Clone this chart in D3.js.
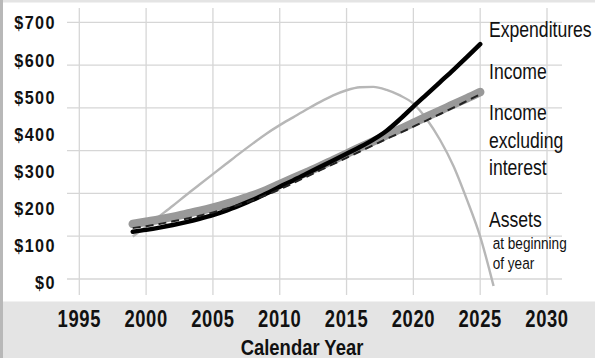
<!DOCTYPE html>
<html>
<head>
<meta charset="utf-8">
<script src="https://cdn.jsdelivr.net/npm/d3@7"></script>
<style>
  html, body { margin: 0; padding: 0; background: #fff; }
  svg { display: block; }
</style>
</head>
<body>
<svg id="chart" width="595" height="358"></svg>
<script>
// Trust fund projections, billions of dollars, by calendar year
const years = [1999, 2000, 2001, 2002, 2003, 2004, 2005, 2006, 2007, 2008, 2009, 2010, 2011, 2012,
               2013, 2014, 2015, 2016, 2017, 2018, 2019, 2020, 2021, 2022, 2023, 2024, 2025];
const expenditures = [138, 143, 149, 156, 164, 173, 183, 195, 209, 224, 241, 259, 276, 294,
                      312, 330, 348, 366, 386, 410, 441, 475, 508, 541, 574, 608, 643];
const income = [159, 165, 171, 178, 186, 194, 203, 213, 224, 236, 250, 266, 282, 298,
                314, 331, 348, 365, 381, 398, 414, 431, 448, 464, 481, 497, 514];
const incomeExInterest = [148, 153, 159, 166, 173, 181, 190, 200, 211, 223, 237, 252, 269, 286,
                          303, 320, 337, 354, 371, 388, 404, 421, 438, 455, 472, 490, 508];
const assetYears = [1999, 2000, 2001, 2002, 2003, 2004, 2005, 2006, 2007, 2008, 2009, 2010, 2011, 2012,
                    2013, 2014, 2015, 2016, 2017, 2018, 2019, 2020, 2021, 2022, 2023, 2024, 2025, 2026];
const assets = [125, 152, 180, 208, 237, 265, 293, 321, 349, 376, 402, 425, 446, 467,
                487, 505, 519, 527, 528, 520, 505, 483, 441, 385, 315, 225, 125, -8];

const yTicks = [0, 100, 200, 300, 400, 500, 600, 700];
const xTicks = [1995, 2000, 2005, 2010, 2015, 2020, 2025, 2030];
const gridRows = [0, 1, 2, 3, 4, 5, 6];

const W = 595, H = 358;
const svg = d3.select("#chart");

const x = d3.scaleLinear().domain([1995, 2030]).range([79.3, 547]);
const y = d3.scaleLinear().domain([0, 700]).range([283, 23]);
const gridY = d3.scaleLinear().domain([0, 6]).range([279, 22.3]);

// Frame: light band on top, darker strip on the left, grey band under the plot
svg.append("rect").attr("x", 0).attr("y", 0).attr("width", W).attr("height", H).attr("fill", "#fff");
svg.append("rect").attr("x", 0).attr("y", 0).attr("width", W).attr("height", 2.5).attr("fill", "#e4e4e4");
svg.append("rect").attr("x", 0).attr("y", 301.5).attr("width", W).attr("height", H - 301.5).attr("fill", "#e4e4e4");
svg.append("rect").attr("x", 0).attr("y", 0).attr("width", 3).attr("height", H).attr("fill", "#b8b8b8");

// Grid
const grid = svg.append("g").attr("stroke", "#d6d6d6").attr("stroke-width", 1.3);
grid.selectAll("line.h").data(gridRows).join("line")
  .attr("x1", 67).attr("x2", 562)
  .attr("y1", d => gridY(d)).attr("y2", d => gridY(d));
grid.selectAll("line.v").data(xTicks).join("line")
  .attr("x1", d => x(d)).attr("x2", d => x(d))
  .attr("y1", 8).attr("y2", 295);

// Condensed text: Liberation Sans squeezed horizontally about its anchor
function label(parent, tx, ty, str, opts) {
  const o = Object.assign({ size: 22, weight: "normal", anchor: "start", sx: 0.8, spacing: 0 }, opts || {});
  return parent.append("text")
    .attr("transform", `translate(${tx},${ty}) scale(${o.sx},1)`)
    .attr("font-family", "'Liberation Sans', Arial, sans-serif")
    .attr("font-size", o.size)
    .attr("font-weight", o.weight)
    .attr("letter-spacing", o.spacing)
    .attr("text-anchor", o.anchor)
    .attr("fill", "#111")
    .text(str);
}

// Y axis labels
const yAxis = svg.append("g");
yTicks.forEach(v => {
  label(yAxis, 56, y(v) + 6.4, "$" + v, { size: 18, weight: "bold", anchor: "end", sx: 0.9, spacing: 1.6 });
});

// X axis labels
const xAxis = svg.append("g");
xTicks.forEach(v => {
  label(xAxis, x(v), 326.5, String(v), { size: 23, weight: "bold", anchor: "middle", sx: 0.8, spacing: 0.8 });
});
label(svg, 302, 354.5, "Calendar Year", { size: 22.5, weight: "bold", anchor: "middle", sx: 0.82 });

// Series
const lineYears = d3.line().x((d, i) => x(years[i])).y(d => y(d)).curve(d3.curveMonotoneX);
const lineAssets = d3.line().x((d, i) => x(assetYears[i])).y(d => y(d)).curve(d3.curveMonotoneX);

svg.append("path").datum(assets).attr("d", lineAssets)
  .attr("fill", "none").attr("stroke", "#b7b7b7").attr("stroke-width", 2.4);
svg.append("path").datum(income).attr("d", lineYears)
  .attr("fill", "none").attr("stroke", "#999").attr("stroke-width", 8.5).attr("stroke-linecap", "round");
svg.append("path").datum(expenditures).attr("d", lineYears)
  .attr("fill", "none").attr("stroke", "#000").attr("stroke-width", 4.5).attr("stroke-linecap", "round");
svg.append("path").datum(incomeExInterest).attr("d", lineYears)
  .attr("fill", "none").attr("stroke", "#222").attr("stroke-width", 2).attr("stroke-dasharray", "8,5");

// Series labels
const legend = svg.append("g");
label(legend, 489, 36.7, "Expenditures");
label(legend, 489, 79.3, "Income");
label(legend, 489, 120, "Income");
label(legend, 489, 148, "excluding");
label(legend, 489, 175, "interest");
label(legend, 489, 226.7, "Assets");
label(legend, 492.7, 249, "at beginning", { size: 17 });
label(legend, 492.7, 269, "of year", { size: 17 });
</script>
</body>
</html>
